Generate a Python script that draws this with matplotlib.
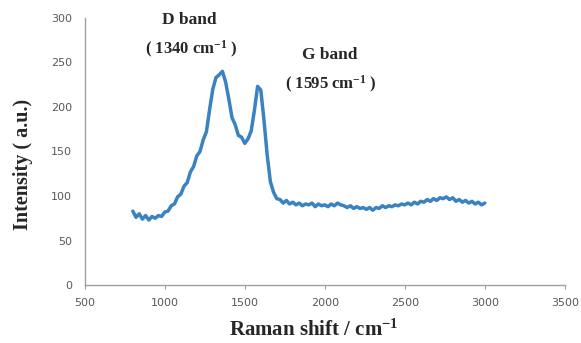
import matplotlib.pyplot as plt
import numpy as np

plt.rcParams["mathtext.fontset"] = "custom"
plt.rcParams["mathtext.rm"] = "Liberation Serif:bold"
plt.rcParams["mathtext.bf"] = "Liberation Serif:bold"
plt.rcParams["mathtext.default"] = "rm"

# Raman spectrum, sampled every 20 cm-1
shift = np.arange(800, 3001, 20)
intensity = [
    83, 76, 80, 74, 78, 73, 77, 75, 78, 77,
    82, 83, 89, 91, 99, 102, 111, 115, 127, 133,
    145, 150, 163, 172, 197, 220, 233, 236, 240, 228,
    209, 188, 180, 168, 166, 159, 164, 173, 196, 223,
    219, 185, 146, 116, 104, 97, 96, 92, 95, 91,
    93, 90, 92, 89, 91, 90, 92, 88, 91, 89,
    90, 88, 91, 89, 92, 90, 89, 87, 89, 86,
    88, 86, 87, 85, 87, 84, 87, 86, 89, 87,
    89, 88, 90, 89, 91, 90, 92, 90, 93, 91,
    94, 93, 96, 94, 97, 95, 98, 97, 99, 96,
    98, 94, 96, 93, 95, 92, 94, 91, 93, 90,
    92,
]

x_ticks = [500, 1000, 1500, 2000, 2500, 3000, 3500]
y_ticks = [0, 50, 100, 150, 200, 250, 300]

bands = ["D band", "G band"]
band_pos = [1340, 1595]

serif = "Liberation Serif"
text_col = "#262626"

fig = plt.figure(figsize=(5.81, 3.43), dpi=100)
ax = fig.add_axes([0.146, 0.169, 0.826, 0.779])

ax.plot(shift, intensity, color="#3a82c0", lw=2.5, solid_joinstyle="round",
        solid_capstyle="round")

ax.set_xlim(500, 3500)
ax.set_ylim(0, 300)
ax.set_xticks(x_ticks)
ax.set_yticks(y_ticks)

for side in ["top", "right"]:
    ax.spines[side].set_visible(False)
for side in ["left", "bottom"]:
    ax.spines[side].set_color("#a0a0a0")
    ax.spines[side].set_linewidth(1.0)

ax.tick_params(axis="x", direction="out", length=3, color="#a0a0a0",
               labelsize=8, labelcolor="#595959", pad=6)
ax.tick_params(axis="y", length=0, labelsize=8, labelcolor="#595959", pad=9)

ax.set_xlabel("Raman shift / cm$^{-1}$", fontfamily=serif, fontweight="bold",
              fontsize=15, color=text_col)
ax.xaxis.set_label_coords(0.477, -0.13)
ax.set_ylabel("Intensity ( a.u.)", fontfamily=serif, fontweight="bold",
              fontsize=14.5, color=text_col)
ax.yaxis.set_label_coords(-0.107, 0.45)

# peak labels
label_xy = [(1156, 298), (2031, 258)]
for name, pos, (lx, ly) in zip(bands, band_pos, label_xy):
    ax.text(lx, ly, name, ha="center", va="center", fontfamily=serif,
            fontweight="bold", fontsize=12.5, color=text_col, clip_on=False)
    ax.text(lx + 10, ly - 33, "( %d cm$^{-1}$ )" % pos, ha="center", va="center",
            fontfamily=serif, fontweight="bold", fontsize=12, color=text_col,
            clip_on=False)

fig.savefig("out.png", dpi=100)
